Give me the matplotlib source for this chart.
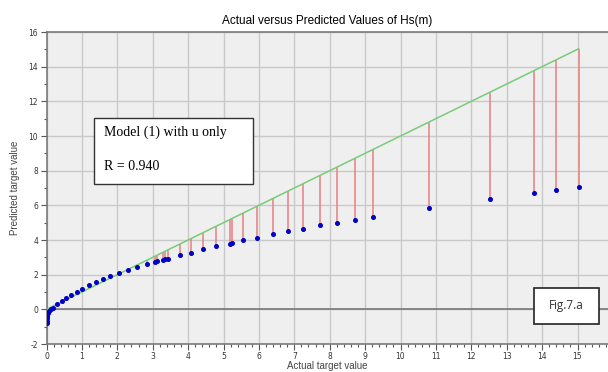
import numpy as np
import matplotlib
matplotlib.use("Agg")
import matplotlib.pyplot as plt
from matplotlib.ticker import MultipleLocator

plt.rcParams["axes.unicode_minus"] = False

# actual vs predicted Hs(m)
actual = [0.00, 0.00, 0.01, 0.02, 0.04, 0.07, 0.12, 0.17, 0.30, 0.43, 0.56, 0.70,
          0.86, 1.01, 1.19, 1.39, 1.59, 1.79, 2.05, 2.29, 2.56, 2.84, 3.06, 3.11,
          3.29, 3.36, 3.42, 3.76, 4.08, 4.43, 4.78, 5.18, 5.25, 5.56, 5.96, 6.39,
          6.83, 7.25, 7.73, 8.21, 8.72, 9.21, 10.80, 12.53, 13.76, 14.38, 15.03]
predicted = [-0.81, -0.66, -0.50, -0.36, -0.22, -0.10, 0.00, 0.10, 0.30, 0.50, 0.68, 0.82,
             1.02, 1.20, 1.38, 1.56, 1.75, 1.92, 2.09, 2.27, 2.42, 2.61, 2.73, 2.77,
             2.86, 2.89, 2.91, 3.12, 3.27, 3.46, 3.63, 3.79, 3.82, 4.00, 4.13, 4.33,
             4.52, 4.65, 4.85, 5.00, 5.17, 5.33, 5.85, 6.36, 6.71, 6.88, 7.04]

model_text = "Model (1) with u only"
r_text = "R = 0.940"
fig_tag = "Fig.7.a"

actual = np.array(actual)
predicted = np.array(predicted)

fig = plt.figure(figsize=(6.08, 3.72), dpi=100)
ax = fig.add_axes([46.5 / 608, 28 / 372, (608 - 46.5) / 608, 312 / 372])
ax.set_facecolor("#efefef")

# grid and zero line
ax.set_xlim(0, (608 - 46.5) / 35.4)
ax.set_ylim(-2, 16)
ax.xaxis.set_major_locator(MultipleLocator(1))
ax.xaxis.set_minor_locator(MultipleLocator(0.2))
ax.yaxis.set_major_locator(MultipleLocator(2))
ax.yaxis.set_minor_locator(MultipleLocator(1))
ax.grid(True, which="major", color="#c9c9c9", lw=1.0)
ax.set_axisbelow(True)
ax.axhline(0, color="#6e6e6e", lw=1.1, zorder=1)

# error lines, ideal line, points
ax.vlines(actual, predicted, actual, color="#e88080", lw=1.1, zorder=2)
ax.plot([actual.min(), actual.max()], [actual.min(), actual.max()],
        color="#78cc78", lw=1.1, zorder=3)
ax.plot(actual, predicted, "o", color="#0000c8", ms=2.6, mec="#0000c8", zorder=4)

for side in ["left", "bottom", "top"]:
    ax.spines[side].set_color("#7a7a7a")
    ax.spines[side].set_linewidth(1.2)
ax.spines["right"].set_visible(False)

ax.tick_params(which="major", length=4, width=0.8, color="#555555",
               labelsize=5.5, labelcolor="#333333", pad=2)
ax.tick_params(which="minor", length=2.5, width=0.8, color="#555555")

ax.set_title("Actual versus Predicted Values of Hs(m)", fontsize=8.5,
             family="Liberation Sans", pad=6)
ax.set_xlabel("Actual target value", fontsize=7, color="#444444",
              family="Liberation Sans", labelpad=0)
ax.set_ylabel("Predicted target value", fontsize=7, color="#444444",
              family="Liberation Sans", labelpad=6)

# annotation boxes
fig.patches.append(plt.Rectangle((94 / 608, 1 - 184 / 372), 159 / 608, 66 / 372,
                                 transform=fig.transFigure, facecolor="white",
                                 edgecolor="#333333", lw=1.0, zorder=5))
fig.text(104 / 608, 1 - 132 / 372, model_text, fontsize=10, family="Liberation Serif",
         va="center", ha="left", zorder=6)
fig.text(104 / 608, 1 - 166 / 372, r_text, fontsize=10, family="Liberation Serif",
         va="center", ha="left", zorder=6)

fig.patches.append(plt.Rectangle((534 / 608, 1 - 324 / 372), 65 / 608, 36 / 372,
                                 transform=fig.transFigure, facecolor="white",
                                 edgecolor="#222222", lw=1.2, zorder=5))
fig.text(566 / 608, 1 - 305 / 372, fig_tag, fontsize=8.5, family="Open Sans",
         va="center", ha="center", color="#333333", zorder=6)

fig.savefig("out.png", dpi=100)
